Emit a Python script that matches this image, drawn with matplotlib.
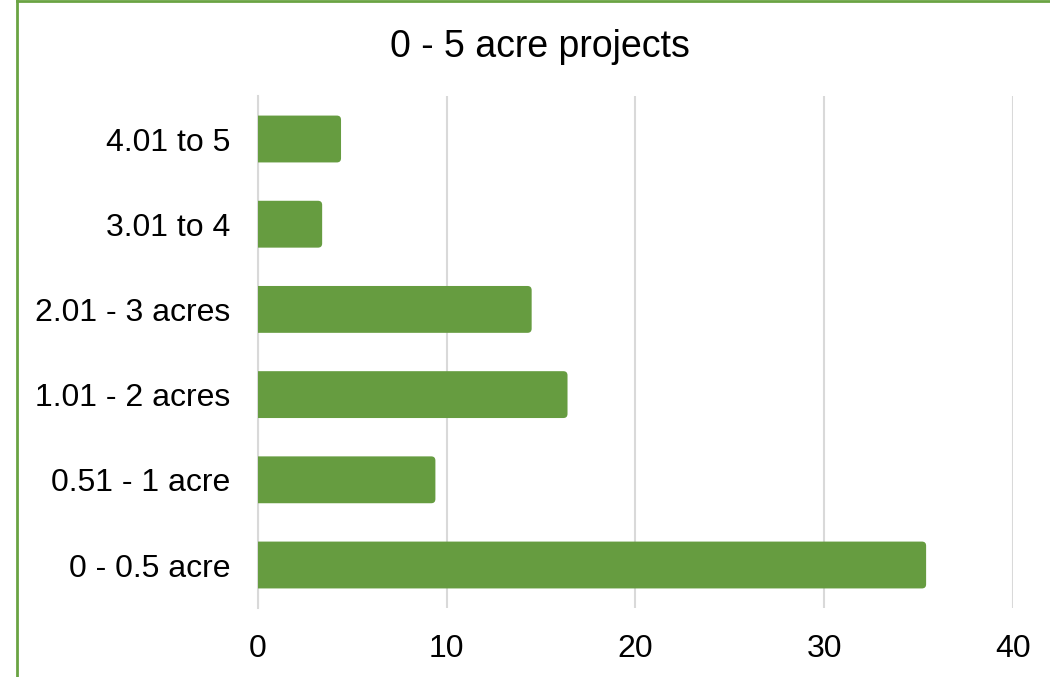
import numpy as np
import matplotlib
matplotlib.use("Agg")
import matplotlib.pyplot as plt
from matplotlib.patches import FancyBboxPatch
from matplotlib.lines import Line2D

# data (bottom to top)
categories = ['0 - 0.5 acre', '0.51 - 1 acre', '1.01 - 2 acres',
              '2.01 - 3 acres', '3.01 to 4', '4.01 to 5']
values = [35.4, 9.4, 16.4, 14.5, 3.4, 4.4]
xticks = [0, 10, 20, 30, 40]
title = '0 - 5 acre projects'

plt.rcParams['font.family'] = ['Liberation Sans', 'DejaVu Sans']

bar_color = '#669C40'
grid_color = '#D9D9D9'
border_color = '#6AA343'

fig = plt.figure(figsize=(10.5, 6.77), dpi=100)
ax = fig.add_axes([0.2457, 0.1025, 0.719, 0.7551])

y = np.arange(len(categories))
bars = ax.barh(y, values, height=0.55, color=bar_color)

ax.set_xlim(0, 40)
ax.set_ylim(-0.5, len(categories) - 0.5)

# rounded ends like the original (replace the square bars)
px_x = 0.719 * 1050 / 40.0
px_y = 0.7551 * 677 / len(categories)
aspect = px_x / px_y
for b in bars:
    x0, y0 = b.get_x(), b.get_y()
    w, h = b.get_width(), b.get_height()
    rb = FancyBboxPatch((x0 - 1, y0), w + 1, h,
                        boxstyle='round,pad=0,rounding_size=0.22',
                        mutation_aspect=aspect,
                        facecolor=bar_color, edgecolor='none',
                        zorder=3)
    rb.set_clip_path(ax.patch)
    ax.add_patch(rb)
    b.set_visible(False)

ax.set_xticks(xticks)
ax.set_yticks(y)
ax.set_yticklabels(categories)
ax.tick_params(axis='both', length=0, labelsize=23)
ax.tick_params(axis='x', pad=19)
ax.tick_params(axis='y', pad=20)
ax.xaxis.grid(True, color=grid_color, linewidth=1.5)
ax.set_axisbelow(True)
for s in ['top', 'right', 'bottom']:
    ax.spines[s].set_visible(False)
ax.spines['left'].set_color(grid_color)
ax.spines['left'].set_linewidth(1.5)

fig.text(0.514, 0.931, title, ha='center', va='center', fontsize=27)

# green frame (left and top edges visible)
fig.add_artist(Line2D([17 / 1050, 17 / 1050], [0, 1], color=border_color,
                      linewidth=2, transform=fig.transFigure))
fig.add_artist(Line2D([17 / 1050, 1], [1 - 1 / 677, 1 - 1 / 677],
                      color=border_color, linewidth=2,
                      transform=fig.transFigure))

fig.savefig('out.png', dpi=100)
